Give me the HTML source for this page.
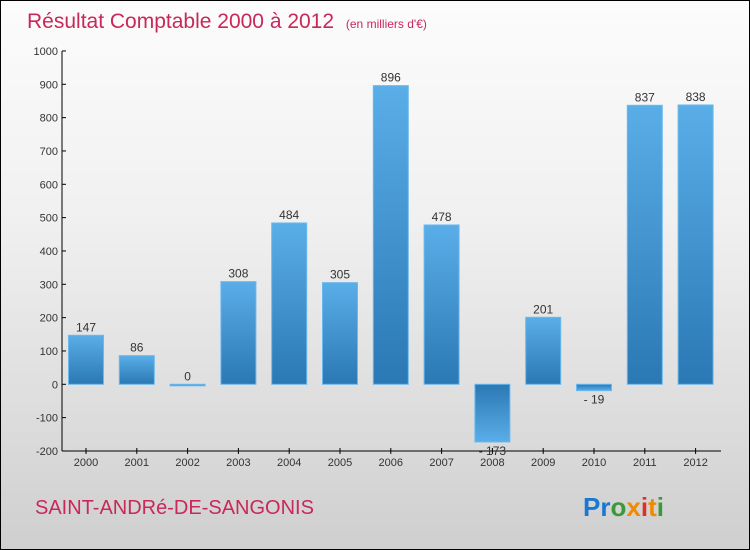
<!DOCTYPE html>
<html><head><meta charset="utf-8"><style>
body{margin:0}
#wrap{width:748px;height:548px;border:1px solid #000;background:linear-gradient(#fcfcfc,#f0f0f0 40%,#cfcfcf);position:relative;font-family:"Liberation Sans",sans-serif;overflow:hidden}
</style></head><body>
<div id="wrap">
<svg id="chart" width="748" height="548" style="position:absolute;left:0;top:0">
<defs>
<linearGradient id="gp" x1="0" y1="0" x2="0" y2="1"><stop offset="0" stop-color="#5aaee8"/><stop offset="1" stop-color="#2a78b4"/></linearGradient>
<linearGradient id="gn" x1="0" y1="0" x2="0" y2="1"><stop offset="0" stop-color="#2a78b4"/><stop offset="1" stop-color="#5aaee8"/></linearGradient>
</defs>
<text x="26" y="27" font-size="21" fill="#c8285a">Résultat Comptable 2000 à 2012 <tspan font-size="12" dx="6">(en milliers d'€)</tspan></text>
<text x="34" y="513" font-size="20" fill="#c8285a">SAINT-ANDRé-DE-SANGONIS</text>
<text x="582" y="515" font-size="26" font-weight="bold"><tspan fill="#1a78d0">Pr</tspan><tspan fill="#3a9a3a">o</tspan><tspan fill="#f08a00">x</tspan><tspan fill="#e03020">i</tspan><tspan fill="#f08a00">t</tspan><tspan fill="#3a9a3a">i</tspan></text>
<g id="g"></g>
</svg>
</div>
<script>
const years=["2000","2001","2002","2003","2004","2005","2006","2007","2008","2009","2010","2011","2012"];
const values=[147,86,0,308,484,305,896,478,-173,201,-19,837,838];
const yTicks=[-200,-100,0,100,200,300,400,500,600,700,800,900,1000];
const NS="http://www.w3.org/2000/svg";
const g=document.getElementById('g');
function y(v){return 383.3-v/3;}
function x(i){return 85+i*50.8;}
function mk(t,a){const e=document.createElementNS(NS,t);for(const k in a)e.setAttribute(k,a[k]);g.appendChild(e);return e;}
let ax=mk('line',{x1:61,y1:y(1000),x2:61,y2:y(-200),stroke:'#000'});


let bx=mk('line',{x1:61,y1:y(-200),x2:720,y2:y(-200),stroke:'#000'});


yTicks.forEach(v=>{
 mk('line',{x1:61,y1:y(v),x2:65,y2:y(v),stroke:'#000'});
 const t=mk('text',{x:57,y:y(v)+4,'font-size':11,'text-anchor':'end',fill:'#333'});t.textContent=v;
 
 
});
years.forEach((yr,i)=>{
 const cx=x(i),v=values[i];
 mk('line',{x1:cx,y1:y(-200)-3,x2:cx,y2:y(-200)+3,stroke:'#000'});
 const t=mk('text',{x:cx,y:y(-200)+15,'font-size':11,'text-anchor':'middle',fill:'#333'});t.textContent=yr;
 
 
 const top=Math.min(y(v),y(0)),h=Math.max(Math.abs(y(v)-y(0)),1.5);
 const r=mk('rect',{x:cx-17.5,y:top,width:35,height:h,fill:v>=0?'url(#gp)':'url(#gn)',stroke:'#6bb8ee','stroke-width':1});
 
 
 const ly=v>=0?y(v)-4:y(v)+13;
 const l=mk('text',{x:cx,y:ly,'font-size':12,'text-anchor':'middle',fill:'#333'});l.textContent=v<0?'- '+(-v):v;
 
 
});
</script>
</body></html>
